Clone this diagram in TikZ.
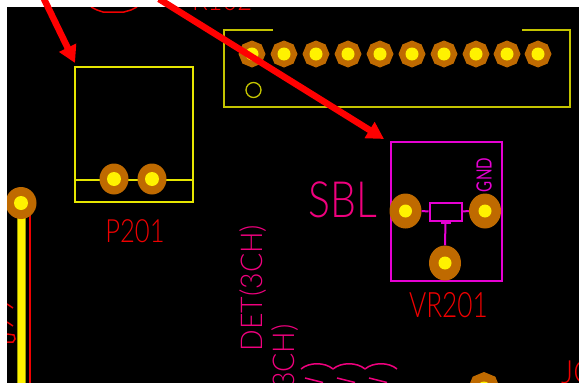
\documentclass[tikz,border=0pt]{standalone}
\usepackage{fontspec}
\usetikzlibrary{arrows.meta,shapes.geometric}
\newfontfamily\pcbfont{Lato Light}
\newfontfamily\pcbsmall{Lato}
\definecolor{padbrown}{HTML}{BF6A00}
\definecolor{silkyellow}{HTML}{E6E600}
\definecolor{silkolive}{HTML}{C4C400}
\definecolor{silkmagenta}{HTML}{E600D2}
\definecolor{notepink}{HTML}{F0007E}
\definecolor{refred}{HTML}{F00000}
\tikzset{
	bigpad/.style={ellipse, fill=padbrown, inner sep=0, minimum width=32, minimum height=35},
	smallpad/.style={regular polygon, regular polygon sides=8, shape border rotate=22.5, fill=padbrown, inner sep=0, minimum size=27},
	pcbtext/.style={font=\pcbfont\fontsize{#1}{#1}\selectfont, inner sep=0},
	callout/.style={red, line width=6.5, -{Triangle[length=17, width=18]}}
}
\begin{document}
\begin{tikzpicture}[x=1pt, y=-1pt]
	\useasboundingbox (0,0) rectangle (579,383);
	\fill[black] (7,7) rectangle (579,383);
	\begin{scope}
		\clip (7,7) rectangle (579,383);
		
		% trace
		\draw[silkolive!80!black, line width=9] (21,210) -- (21,383);
		\draw[yellow, line width=7] (21,210) -- (21,383);
		\draw[refred, line width=2] (29.5,215) -- (29.5,383);
		\node[bigpad, minimum width=31, minimum height=32] (left) at (21,203) {};
		\fill[yellow] (left) circle (7);
		
		% clipped bits
		\draw[refred, line width=1.5] (91,7) -- (97,10) -- (103,12) -- (124,12) -- (131,10) -- (137,7);
		\draw[refred, line width=1.5] (7,304) -- (13,308);
		\draw[refred, line width=1.5] (7,322) -- (13,326);
		\draw[refred, line width=1.5] (7,334) -- (14,335) -- (15,339) -- (13,342) -- (7,342);
		\node[pcbtext=32, refred, xscale=0.8, anchor=base west] (topref) at (192,10.5) {R102};
		
		% connector
		\draw[silkolive, line width=2] (273,30) -- (223.5,30) -- (223.5,107) -- (570,107) -- (570,30) -- (522,30);
		\draw[silkolive, line width=1.3] (253.5,90) circle (7.5);
		\foreach \x in {252,284,316,348,380,412,444,476,507,538}{
			\node[smallpad] (top\x) at (\x,54) {};
			\fill[yellow] (top\x) circle (6.5);
		}
		
		% P201
		\draw[silkyellow, line width=2] (75,66.5) rectangle (193,202);
		\draw[silkyellow, line width=2] (75,180) -- (193,180);
		\foreach \x in {114,152}{
			\node[bigpad, minimum width=29, minimum height=31] (jack\x) at (\x,179) {};
			\fill[yellow] (jack\x) circle (7);
		}
		\node[pcbtext=32, refred, xscale=0.8] (refjack) at (135,231.5) {P201};
		
		% VR201
		\draw[silkmagenta, line width=2] (390.5,141.5) rectangle (502,281);
		\node[bigpad] (vrleft) at (405.5,211) {};
		\node[bigpad] (vrright) at (485,211) {};
		\node[bigpad] (vrwiper) at (445,263) {};
		\foreach \p in {vrleft,vrright,vrwiper}{
			\fill[yellow] (\p) circle (6.5);
		}
		\node[draw=silkmagenta, line width=2, minimum width=32, minimum height=18, inner sep=0] (vrbody) at (445.5,211.5) {};
		\draw[silkmagenta, line width=2] (vrleft.east) -- (vrbody.west);
		\draw[silkmagenta, line width=2] (vrbody.east) -- (vrright.west);
		\draw[silkmagenta, line width=2] (vrbody.south) -- (vrwiper.north);
		\draw[silkmagenta, line width=1.5] (441,223) -- (451,223);
		\node[font=\pcbsmall\fontsize{21}{21}\selectfont, inner sep=0, silkmagenta, rotate=90, xscale=0.72] (gnd) at (484,175) {GND};
		\node[pcbtext=35, refred, xscale=0.75] (refvr) at (448.5,305.5) {VR201};
		
		% notes
		\node[pcbtext=50, notepink, xscale=0.82] (sbl) at (342.5,200) {SBL};
		\node[pcbtext=30, notepink, rotate=90, xscale=0.95] (det) at (253,288) {DET(3CH)};
		\node[pcbtext=30, notepink, rotate=90, xscale=0.95, anchor=east] (detb) at (285,324) {(3CH)};
		\foreach \x in {301,333,365}{
			\draw[notepink, line width=1.5] (\x,369) .. controls (\x+8,362) and (\x+24,362) .. (\x+32,369);
			\draw[notepink, line width=1.5] (\x+4,378) -- (\x+22,382.5);
		}
		\node[smallpad, minimum size=32] (lowpad) at (484,388) {};
		\fill[yellow] (lowpad) circle (6.5);
		\node[pcbtext=32, refred, anchor=base west, xscale=0.92] (refj) at (561,383) {JC};
	\end{scope}
	
	% callouts
	\coordinate (tailjack) at (44,-1);
	\coordinate (tipjack) at (75,63);
	\coordinate (tailvr) at (159,-1);
	\coordinate (tipvr) at (384,139);
	\draw[callout] (tailjack) -- (tipjack);
	\draw[callout] (tailvr) -- (tipvr);
\end{tikzpicture}
\end{document}
